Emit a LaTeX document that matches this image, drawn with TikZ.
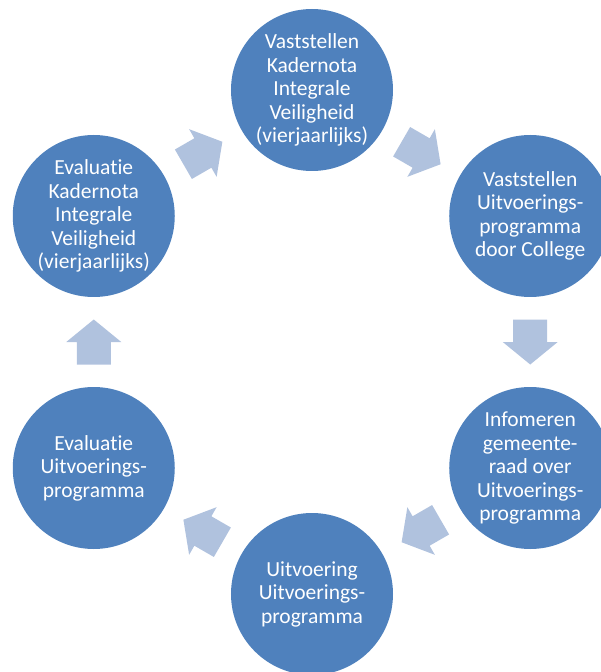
\documentclass[tikz,border=0pt]{standalone}
\usepackage{fontspec}
\setmainfont{Carlito}[Ligatures=NoCommon]
\usetikzlibrary{calc}

\definecolor{cirkelblauw}{RGB}{79,129,189}
\definecolor{pijlblauw}{RGB}{176,194,222}

\begin{document}
\begin{tikzpicture}[x=1pt,y=1pt] %% cycle
	\tikzstyle{cirkel}=[circle,fill=cirkelblauw,minimum size=162pt,inner sep=0pt,text=white,align=center,font=\fontsize{21.5}{23.5}\selectfont];
	\tikzstyle{pijl}=[fill=pijlblauw];
	%% frame
	\useasboundingbox (-312,-330) rectangle (289,342);
	\clip (-312,-330) rectangle (289,342);
	%% circles
	\node[cirkel] (vk) at (90:252) {Vaststellen\\Kadernota\\Integrale\\Veiligheid\\(vierjaarlijks)};
	\node[cirkel] (vu) at (30:252) {Vaststellen\\Uitvoerings-\\programma\\door College};
	\node[cirkel] (ig) at (-30:252) {Infomeren\\gemeente-\\raad over\\Uitvoerings-\\programma};
	\node[cirkel] (uu) at (-90:252) {Uitvoering\\Uitvoerings-\\programma};
	\node[cirkel] (eu) at (-150:252) {Evaluatie\\Uitvoerings-\\programma};
	\node[cirkel] (ek) at (150:252) {Evaluatie\\Kadernota\\Integrale\\Veiligheid\\(vierjaarlijks)};
	%% arrows
	\foreach \van/\naar/\hoek in {ek/vk/30,vk/vu/-30,vu/ig/-90,ig/uu/-150,uu/eu/150,eu/ek/90}
		\fill[pijl,shift={($(\van)!0.5!(\naar)$)},rotate=\hoek] (-22.5,-17) -- (0,-17) -- (0,-27.5) -- (22.5,0) -- (0,27.5) -- (0,17) -- (-22.5,17) -- cycle;
	% \draw (0,0) circle (252);
\end{tikzpicture}
\end{document}
